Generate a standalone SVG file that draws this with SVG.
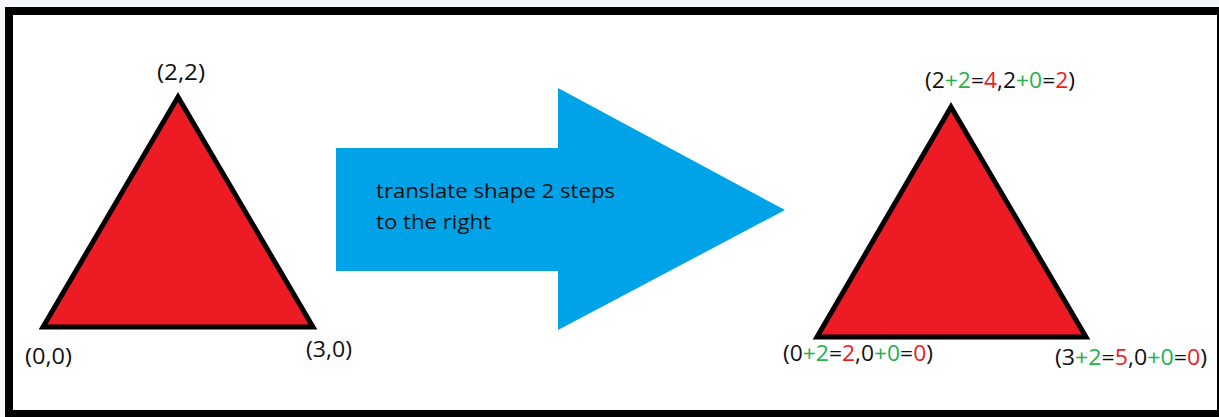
<svg xmlns="http://www.w3.org/2000/svg" width="1219" height="417" viewBox="0 0 1219 417">
<style>
.lbl{font-family:"Open Sans","Noto Sans","DejaVu Sans",sans-serif;font-size:21px;fill:#111}
.g{fill:#22b14c}
.r{fill:#ed1c24}
.tri{fill:#ed1c24;stroke:#000;stroke-width:5;stroke-linejoin:miter}
.txt{font-family:"Open Sans","Noto Sans","DejaVu Sans",sans-serif;font-size:20.5px;fill:#111}
</style>
<rect x="0" y="0" width="1219" height="417" fill="#f4f6f9"/>
<rect x="5" y="7" width="1214" height="410" fill="#000"/>
<rect x="13" y="15" width="1204" height="395" fill="#fff"/>
<g id="connectors">
<polygon points="336,148 558,148 558,88 785,210 558,330 558,271 336,271" fill="#00a2e8"/>
<text class="txt" x="376" y="198" textLength="239" lengthAdjust="spacingAndGlyphs">translate shape 2 steps</text>
<text class="txt" x="376" y="229" textLength="115" lengthAdjust="spacingAndGlyphs">to the right</text>
</g>
<g id="original">
<polygon class="tri" points="178,97 43,327 313,327"/>
<text class="lbl" x="157" y="80" textLength="48" lengthAdjust="spacingAndGlyphs">(2,2)</text>
<text class="lbl" x="25" y="364" textLength="47" lengthAdjust="spacingAndGlyphs">(0,0)</text>
<text class="lbl" x="306" y="357" textLength="46" lengthAdjust="spacingAndGlyphs">(3,0)</text>
</g>
<g id="translated">
<polygon class="tri" points="951,107 817,337 1086,337"/>
<text class="lbl" x="925" y="88" textLength="150" lengthAdjust="spacingAndGlyphs">(2<tspan class="g">+2</tspan>=<tspan class="r">4</tspan>,2<tspan class="g">+0</tspan>=<tspan class="r">2</tspan>)</text>
<text class="lbl" x="783" y="361" textLength="150" lengthAdjust="spacingAndGlyphs">(0<tspan class="g">+2</tspan>=<tspan class="r">2</tspan>,0<tspan class="g">+0</tspan>=<tspan class="r">0</tspan>)</text>
<text class="lbl" x="1055" y="365" textLength="152" lengthAdjust="spacingAndGlyphs">(3<tspan class="g">+2</tspan>=<tspan class="r">5</tspan>,0<tspan class="g">+0</tspan>=<tspan class="r">0</tspan>)</text>
</g>
</svg>
